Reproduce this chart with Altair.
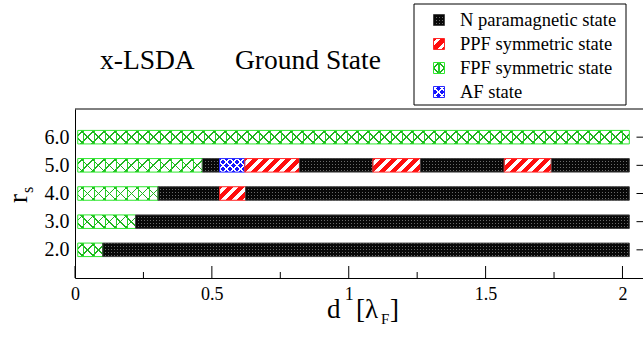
import altair as alt

# ---------------- data ----------------
rs_values = [6.0, 5.0, 4.0, 3.0, 2.0]

# phase boundaries along d (units of lambda_F) for every r_s row
bounds_rs6 = [0.01, 2.025]
bounds_rs5 = [0.01, 0.465, 0.528, 0.62, 0.82, 1.088, 1.262, 1.568, 1.74, 2.025]
bounds_rs4 = [0.01, 0.303, 0.528, 0.623, 2.025]
bounds_rs3 = [0.01, 0.221, 2.025]
bounds_rs2 = [0.01, 0.101, 2.025]

states_rs6 = ["FPF"]
states_rs5 = ["FPF", "N", "AF", "PPF", "N", "PPF", "N", "PPF", "N"]
states_rs4 = ["FPF", "N", "PPF", "N"]
states_rs3 = ["FPF", "N"]
states_rs2 = ["FPF", "N"]

row_bounds = [bounds_rs6, bounds_rs5, bounds_rs4, bounds_rs3, bounds_rs2]
row_states = [states_rs6, states_rs5, states_rs4, states_rs3, states_rs2]

state_keys = ["N", "PPF", "FPF", "AF"]
state_labels = ["N paramagnetic state", "PPF symmetric state",
                "FPF symmetric state", "AF state"]

x_major = [0, 0.5, 1, 1.5, 2]
x_minor = [0.25, 0.75, 1.25, 1.75]

# ---------------- layout ----------------
FONT = "Liberation Serif, Times New Roman, serif"
LEFT, TOP = 75, 109
PLOT_W, PLOT_H = 568, 169
X_MAX = 2.075
Y_MIN, Y_MAX = 1, 7
PX_X = PLOT_W / X_MAX
PX_Y = PLOT_H / (Y_MAX - Y_MIN)
BAR_HALF = 0.24
BAR_H_PX = 2 * BAR_HALF * PX_Y

# hatch styles: (direction, period px, line width px, colour)
# N: grey base covered by black rows and columns, leaving a grid of grey dots
STYLE = {
    "N": {"base": "#6a6a6a", "edge": "#454545",
          "hatch": [("horiz", 3.0, 2.0, "#080808"),
                    ("vert", 3.0, 2.0, "#080808")]},
    "PPF": {"base": "#ff0d0d", "edge": "#ff2a2a",
            "hatch": [("up", 11.0, 4.6, "#ffffff")]},
    "FPF": {"base": "#ffffff", "edge": "#2ee82e",
            "hatch": [("up", 11.0, 1.7, "#1fb41f"),
                      ("down", 11.0, 1.7, "#1fb41f"),
                      ("vert", 11.0, 1.2, "#27d027")]},
    "AF": {"base": "#1414ff", "edge": "#2a2aff",
           "hatch": [("up", 7.0, 1.9, "#ffffff"),
                     ("down", 7.0, 1.9, "#ffffff")]},
}
CLEAR = "rgba(0,0,0,0)"


def stripe_fill(w_px, h_px, kind, period, width, color):
    """Linear gradient with hard stops that paints thin stripes over a rect."""
    if kind == "vert":
        span = w_px
        p1, p2 = (0, 0), (1, 0)
    elif kind == "horiz":
        span = h_px
        p1, p2 = (0, 0), (0, 1)
    else:
        span = w_px + h_px
        m = span / (w_px ** 2 + h_px ** 2)
        if kind == "up":
            p1, p2 = (0, 0), (m * w_px, m * h_px)
        else:
            p1, p2 = (0, 1), (m * w_px, 1 - m * h_px)
    stops = [{"offset": 0, "color": CLEAR}]
    pos = period / 2 - width / 2
    while pos < span:
        a = round(max(pos, 0) / span, 5)
        b = round(min(pos + width, span) / span, 5)
        stops += [{"offset": a, "color": CLEAR}, {"offset": a, "color": color},
                  {"offset": b, "color": color}, {"offset": b, "color": CLEAR}]
        pos += period
    stops.append({"offset": 1, "color": CLEAR})
    return {"gradient": "linear", "x1": p1[0], "y1": p1[1],
            "x2": p2[0], "y2": p2[1], "stops": stops}


def hatch_fields(state, w_px, h_px):
    out = {}
    hatch = STYLE[state]["hatch"]
    for i in range(3):
        if i < len(hatch):
            kind, per, wid, col = hatch[i]
            out["p%d" % i] = stripe_fill(w_px, h_px, kind, per, wid, col)
        else:
            out["p%d" % i] = "transparent"
    return out


# segment table
segments = []
for rs, bnd, sts in zip(rs_values, row_bounds, row_states):
    for i, st in enumerate(sts):
        rec = {"rs": rs, "d0": bnd[i], "d1": bnd[i + 1], "state": st}
        rec.update(hatch_fields(st, (bnd[i + 1] - bnd[i]) * PX_X, BAR_H_PX))
        segments.append(rec)

base_scale = alt.Scale(domain=state_keys, range=[STYLE[k]["base"] for k in state_keys])
edge_scale = alt.Scale(domain=state_keys, range=[STYLE[k]["edge"] for k in state_keys])

x_scale = alt.Scale(domain=[0, X_MAX], nice=False, zero=False)
y_scale = alt.Scale(domain=[Y_MIN, Y_MAX], nice=False, zero=False)
x_axis = alt.Axis(values=x_major, format="~g", ticks=False, grid=False, title=None,
                  domainColor="black", domainWidth=1, labelFont=FONT, labelFontSize=18,
                  labelColor="black", labelPadding=7, labelFlush=False, labelOverlap=False)
y_axis = alt.Axis(values=rs_values, format=".1f", ticks=False, grid=False, title=None,
                  domainColor="black", domainWidth=1, labelFont=FONT, labelFontSize=20,
                  labelColor="black", labelPadding=6, labelOverlap=False)


def patterned(data, x, x2, y, y2):
    """Base colour, up to three hatch overlays and the outline of each rect."""
    pos = dict(x=x, x2=x2, y=y, y2=y2)
    base = alt.Chart(data).mark_rect().encode(
        fill=alt.Fill("state:N", scale=base_scale, legend=None), **pos)
    layers = [base]
    for i in range(3):
        layers.append(alt.Chart(data).mark_rect().encode(
            fill=alt.Fill("p%d:N" % i, scale=None), **pos))
    layers.append(alt.Chart(data).mark_rect(filled=False, strokeWidth=1).encode(
        stroke=alt.Stroke("state:N", scale=edge_scale, legend=None), **pos))
    return layers


seg_data = alt.Data(values=segments)
bar_layers = []
for lyr in patterned(seg_data,
                     alt.X("d0:Q", scale=x_scale, axis=x_axis), alt.X2("d1:Q"),
                     alt.Y("lo:Q", scale=y_scale, axis=y_axis), alt.Y2("hi:Q")):
    bar_layers.append(lyr.transform_calculate(
        lo="datum.rs - %f" % BAR_HALF, hi="datum.rs + %f" % BAR_HALF))

# inward ticks on the d axis
tick_rows = [{"d": v, "len": 12} for v in x_major] + [{"d": v, "len": 6} for v in x_minor]
x_ticks = alt.Chart(alt.Data(values=tick_rows)).mark_rule(color="black", strokeWidth=1).encode(
    x=alt.X("d:Q", scale=x_scale, axis=x_axis),
    y=alt.Y("y0:Q", scale=y_scale, axis=y_axis), y2="y1:Q",
).transform_calculate(y0="%f" % Y_MIN, y1="%f + datum.len / %f" % (Y_MIN, PX_Y))

# inward ticks on the right-hand side
r_ticks = alt.Chart(alt.Data(values=[{"rs": v} for v in rs_values])).mark_rule(
    color="black", strokeWidth=1).encode(
    x=alt.X("a:Q", scale=x_scale, axis=x_axis), x2="b:Q",
    y=alt.Y("rs:Q", scale=y_scale, axis=y_axis),
).transform_calculate(a="%f" % (X_MAX - 6.5 / PX_X), b="%f" % X_MAX)

blank = alt.Data(values=[{}])
top_frame = alt.Chart(blank).mark_rule(color="black", strokeWidth=1).encode(
    x=alt.value(0), x2=alt.value(PLOT_W), y=alt.value(0))

# legend
LEG_BOX = (414 - LEFT, 4 - TOP, 626 - LEFT, 105 - TOP)
legend_box = alt.Chart(blank).mark_rect(filled=False, stroke="black", strokeWidth=1).encode(
    x=alt.value(LEG_BOX[0]), x2=alt.value(LEG_BOX[2]),
    y=alt.value(LEG_BOX[1]), y2=alt.value(LEG_BOX[3]))

row_y = [20, 44, 68, 92]
SW = 11
legend_rows = []
for k, lab, cy in zip(state_keys, state_labels, row_y):
    rec = {"state": k, "label": lab,
           "sx0": 439 - LEFT - SW / 2, "sx1": 439 - LEFT + SW / 2,
           "sy0": cy - TOP - SW / 2, "sy1": cy - TOP + SW / 2,
           "tx": 460 - LEFT, "ty": cy - TOP + 6}
    rec.update(hatch_fields(k, SW, SW))
    legend_rows.append(rec)
leg_data = alt.Data(values=legend_rows)
legend_swatches = patterned(
    leg_data,
    alt.X("sx0:Q", scale=None, axis=None), alt.X2("sx1:Q"),
    alt.Y("sy0:Q", scale=None, axis=None), alt.Y2("sy1:Q"))
legend_text = alt.Chart(leg_data).mark_text(
    align="left", baseline="alphabetic", font=FONT, fontSize=18.5, color="black").encode(
    x=alt.X("tx:Q", scale=None, axis=None), y=alt.Y("ty:Q", scale=None, axis=None),
    text="label:N")

# titles
def label(txt, x, y, size, angle=0):
    return alt.Chart(blank).mark_text(
        align="left", baseline="alphabetic", font=FONT, fontSize=size,
        color="black", angle=angle, text=txt).encode(x=alt.value(x), y=alt.value(y))


titles = [
    label("x-LSDA", 100 - LEFT, 69 - TOP, 27.5),
    label("Ground State", 235 - LEFT, 69 - TOP, 27.5),
    label("d", 327 - LEFT, 318 - TOP, 27),
    label("[λ", 356 - LEFT, 318 - TOP, 27),
    label("F", 381 - LEFT, 324 - TOP, 15),
    label("]", 390 - LEFT, 318 - TOP, 27),
    label("r", 27 - LEFT, 203 - TOP, 27, angle=270),
    label("s", 33 - LEFT, 193 - TOP, 16, angle=270),
]

chart = alt.layer(
    *bar_layers, x_ticks, r_ticks, top_frame, legend_box,
    *legend_swatches, legend_text, *titles,
).properties(
    width=PLOT_W, height=PLOT_H,
    autosize=alt.AutoSizeParams(type="none"),
    padding={"left": LEFT, "top": TOP, "right": 0, "bottom": 339 - TOP - PLOT_H},
    background="white",
).configure_view(stroke=None)

chart.save("out.html", embed_options={"renderer": "svg", "actions": False})
